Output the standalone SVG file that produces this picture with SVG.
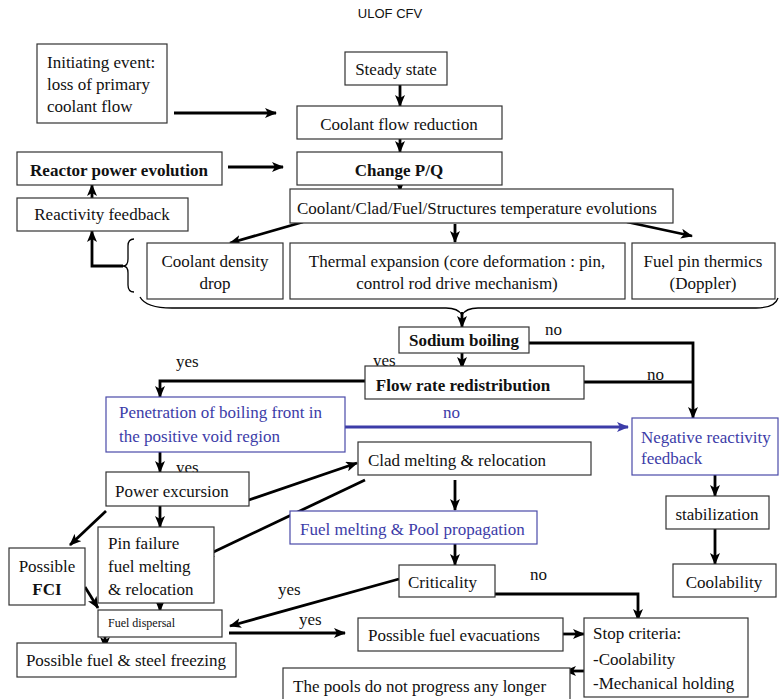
<svg xmlns="http://www.w3.org/2000/svg" width="780" height="699" viewBox="0 0 780 699">
<style>
.bx{fill:#fff;stroke:#333;stroke-width:1.2}
.bb{fill:#fff;stroke:#4a4aa8;stroke-width:1.2}
.t{font-family:"Liberation Serif","Times New Roman",serif;font-size:17px;fill:#111}
.tb{font-family:"Liberation Serif","Times New Roman",serif;font-size:17px;fill:#111;font-weight:bold}
.tbl{font-family:"Liberation Serif","Times New Roman",serif;font-size:17px;fill:#3c3ca8}
.ts{font-family:"Liberation Serif","Times New Roman",serif;font-size:12px;fill:#111}
.m{text-anchor:middle}
.c{fill:none;stroke:#000;stroke-width:2.8;marker-end:url(#ah)}
.cn{fill:none;stroke:#000;stroke-width:2.8}
.cblue{fill:none;stroke:#3c3ca8;stroke-width:3;marker-end:url(#ahb)}
.br{fill:none;stroke:#000;stroke-width:1.3}
</style>
<defs>
<marker id="ah" viewBox="0 0 12 10" refX="11" refY="5" markerWidth="12" markerHeight="10" markerUnits="userSpaceOnUse" orient="auto">
<path d="M0,0 L12,5 L0,10 L3,5 z" fill="#000"/>
</marker>
<marker id="ahb" viewBox="0 0 12 10" refX="11" refY="5" markerWidth="12" markerHeight="10" markerUnits="userSpaceOnUse" orient="auto">
<path d="M0,0 L12,5 L0,10 L3,5 z" fill="#3c3ca8"/>
</marker>
</defs>
<rect width="780" height="699" fill="#fff"/>
<text x="390" y="18" text-anchor="middle" font-family="Liberation Sans, Arial, sans-serif" font-size="13" fill="#111">ULOF CFV</text>

<g id="connectors">
<line class="c" x1="174" y1="113" x2="276" y2="113"/>
<line class="c" x1="400" y1="85" x2="400" y2="106"/>
<line class="c" x1="400" y1="139" x2="400" y2="152"/>
<line class="c" x1="400" y1="185" x2="400" y2="191"/>
<line class="c" x1="228" y1="167" x2="283" y2="167"/>
<line class="c" x1="92" y1="198" x2="92" y2="185"/>
<polyline class="c" points="123,266 92,266 92,231"/>
<line class="c" x1="303" y1="222" x2="230" y2="243"/>
<line class="c" x1="455" y1="224" x2="455" y2="242"/>
<line class="c" x1="627" y1="222" x2="692" y2="236"/>
<path class="br" d="M134,239 Q128,239 128,246 L128,259 Q128,266 123,266 Q128,266 128,273 L128,285 Q128,292 134,292"/>
<path class="br" d="M140,297 Q146,308 172,308 L446,308 Q458,308 462,315 Q466,308 478,308 L756,308 Q775,308 778,298"/>
<line class="c" x1="462" y1="312" x2="462" y2="327"/>
<line class="c" x1="462" y1="353" x2="462" y2="368"/>
<text class="t" x="545" y="335">no</text>
<polyline class="c" points="529,343 693,343 693,418"/>
<text class="t" x="647" y="380">no</text>
<line class="cn" x1="584" y1="382" x2="693" y2="382"/>
<text class="t" x="373" y="366">yes</text>
<text class="t" x="176" y="367">yes</text>
<polyline class="c" points="365,381 160,381 160,397"/>
<text class="tbl" x="443" y="418">no</text>
<line class="cblue" x1="345" y1="427" x2="628" y2="427"/>
<line class="c" x1="160" y1="452" x2="160" y2="472"/>
<text class="t" x="176" y="473">yes</text>
<line class="c" x1="715" y1="475" x2="715" y2="496"/>
<line class="c" x1="715" y1="529" x2="715" y2="564"/>
<line class="c" x1="243" y1="502" x2="357" y2="463"/>
<line class="c" x1="365" y1="480" x2="203" y2="557"/>
<line class="c" x1="455" y1="480" x2="455" y2="510"/>
<line class="c" x1="455" y1="544" x2="455" y2="565"/>
<line class="c" x1="106" y1="511" x2="70" y2="545"/>
<line class="c" x1="160" y1="506" x2="160" y2="527"/>
<line class="c" x1="85" y1="587" x2="98" y2="608"/>
<line class="c" x1="160" y1="603" x2="160" y2="611"/>
<line class="c" x1="105" y1="637" x2="105" y2="648"/>
<text class="t" x="278" y="595">yes</text>
<line class="c" x1="399" y1="579" x2="230" y2="626"/>
<text class="t" x="299" y="625">yes</text>
<line class="c" x1="229" y1="633" x2="345" y2="633"/>
<text class="t" x="530" y="580">no</text>
<polyline class="c" points="495,594 638,594 638,620"/>
<line class="c" x1="563" y1="634" x2="584" y2="634"/>
<line class="c" x1="591" y1="671" x2="565" y2="671"/>
</g>

<g id="n-initiating"><rect class="bx" x="37" y="44" width="130" height="79"/>
<text class="t" x="47" y="68">Initiating event:</text><text class="t" x="47" y="90">loss of primary</text><text class="t" x="47" y="112">coolant flow</text></g>
<g id="n-steady"><rect class="bx" x="345" y="52" width="102" height="33"/><text class="t m" x="396" y="75">Steady state</text></g>
<g id="n-flowred"><rect class="bx" x="297" y="106" width="205" height="33"/><text class="t m" x="399" y="130">Coolant flow reduction</text></g>
<g id="n-pq"><rect class="bx" x="297" y="152" width="205" height="33"/><text class="tb m" x="399" y="176">Change P/Q</text></g>
<g id="n-reactor"><rect class="bx" x="17" y="152" width="205" height="33"/><text class="tb m" x="119" y="176">Reactor power evolution</text></g>
<g id="n-reactivity"><rect class="bx" x="17" y="198" width="171" height="33"/><text class="t m" x="102" y="220">Reactivity feedback</text></g>
<g id="n-temp"><rect class="bx" x="290" y="189" width="383" height="34"/><text class="t" x="297" y="214">Coolant/Clad/Fuel/Structures temperature evolutions</text></g>
<g id="n-density"><rect class="bx" x="147" y="243" width="136" height="56"/><text class="t m" x="215" y="267">Coolant density</text><text class="t m" x="215" y="289">drop</text></g>
<g id="n-thermal"><rect class="bx" x="290" y="243" width="335" height="56"/><text class="t m" x="457" y="267">Thermal expansion (core deformation : pin,</text><text class="t m" x="457" y="289">control rod drive mechanism)</text></g>
<g id="n-fuelpin"><rect class="bx" x="632" y="243" width="143" height="56"/><text class="t m" x="703" y="267">Fuel pin thermics</text><text class="t m" x="703" y="289">(Doppler)</text></g>
<g id="n-sodium"><rect class="bx" x="399" y="327" width="130" height="26"/><text class="tb m" x="464" y="346">Sodium boiling</text></g>
<g id="n-flowrate"><rect class="bx" x="365" y="366" width="219" height="33"/><text class="tb m" x="463" y="391">Flow rate redistribution</text></g>
<g id="n-penetration"><rect class="bb" x="106" y="397" width="239" height="55"/><text class="tbl" x="119" y="418">Penetration of boiling front in</text><text class="tbl" x="119" y="442">the positive void region</text></g>
<g id="n-negative"><rect class="bb" x="632" y="418" width="146" height="57"/><text class="tbl" x="641" y="443">Negative reactivity</text><text class="tbl" x="641" y="464">feedback</text></g>
<g id="n-clad"><rect class="bx" x="358" y="442" width="233" height="33"/><text class="t" x="368" y="466">Clad melting &amp; relocation</text></g>
<g id="n-power"><rect class="bx" x="106" y="472" width="143" height="34"/><text class="t" x="115" y="497">Power excursion</text></g>
<g id="n-stab"><rect class="bx" x="666" y="496" width="103" height="33"/><text class="t m" x="717" y="520">stabilization</text></g>
<g id="n-fuelmelt"><rect class="bb" x="290" y="511" width="247" height="33"/><text class="tbl" x="300" y="535">Fuel melting &amp; Pool propagation</text></g>
<g id="n-pin"><rect class="bx" x="98" y="527" width="116" height="76"/><text class="t" x="108" y="549">Pin failure</text><text class="t" x="108" y="572">fuel melting</text><text class="t" x="108" y="595">&amp; relocation</text></g>
<g id="n-fci"><rect class="bx" x="9" y="548" width="76" height="57"/><text class="t m" x="47" y="572">Possible</text><text class="tb m" x="47" y="595">FCI</text></g>
<g id="n-crit"><rect class="bx" x="399" y="565" width="96" height="32"/><text class="t" x="408" y="588">Criticality</text></g>
<g id="n-cool"><rect class="bx" x="673" y="564" width="103" height="33"/><text class="t m" x="724" y="588">Coolability</text></g>
<g id="n-disp"><rect class="bx" x="98" y="610" width="124" height="27"/><text class="ts" x="108" y="627">Fuel dispersal</text></g>
<g id="n-freeze"><rect class="bx" x="17" y="643" width="219" height="34"/><text class="t m" x="126" y="666">Possible fuel &amp; steel freezing</text></g>
<g id="n-evac"><rect class="bx" x="358" y="618" width="205" height="33"/><text class="t" x="368" y="641">Possible fuel evacuations</text></g>
<g id="n-stop"><rect class="bx" x="584" y="618" width="164" height="79"/><text class="t" x="593" y="639">Stop criteria:</text><text class="t" x="593" y="665">-Coolability</text><text class="t" x="593" y="689">-Mechanical holding</text></g>
<g id="n-pools"><rect class="bx" x="283" y="668" width="287" height="40"/><text class="t" x="293" y="692">The pools do not progress any longer</text></g>
</svg>
